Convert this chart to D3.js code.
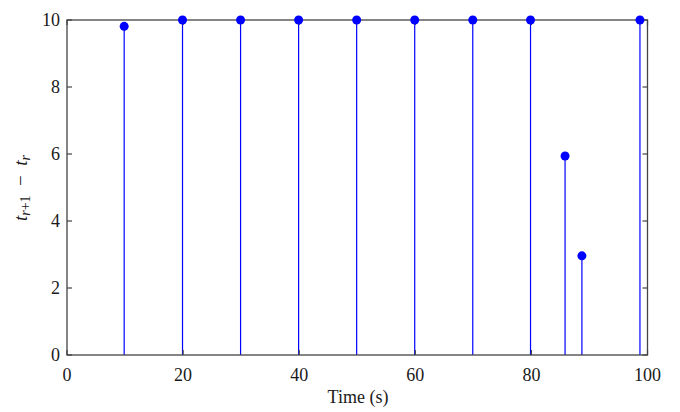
<!DOCTYPE html>
<html><head><meta charset="utf-8">
<script src="https://cdn.jsdelivr.net/npm/d3@7"></script>
<style>body{margin:0;background:#fff}svg{display:block}</style>
</head><body><svg id="c" width="680" height="412"></svg>
<script>
const times = [9.85, 19.9, 29.9, 39.9, 49.9, 59.9, 69.9, 79.85, 85.8, 88.7, 98.7];
const gaps  = [9.81, 10, 10, 10, 10, 10, 10, 10, 5.94, 2.96, 10];
const xTicks = [0, 20, 40, 60, 80, 100];
const yTicks = [0, 2, 4, 6, 8, 10];

const svg = d3.select("#c");
const L = 67, R = 647.5, T = 20, B = 355;
const x = d3.scaleLinear().domain([0, 100]).range([L, R]);
const y = d3.scaleLinear().domain([0, 10]).range([B, T]);
const font = "Liberation Serif, serif";
const axisCol = "#444";
const txtCol = "#1a1a1a";

// stems
const pts = times.map((t, i) => ({t, g: gaps[i]}));
svg.append("g").selectAll("line").data(pts).join("line")
  .attr("x1", d => x(d.t)).attr("x2", d => x(d.t))
  .attr("y1", y(0)).attr("y2", d => y(d.g))
  .attr("stroke", "#0000ff").attr("stroke-width", 1.2);

// box
svg.append("rect").attr("x", L).attr("y", T).attr("width", R - L).attr("height", B - T)
  .attr("fill", "none").attr("stroke", axisCol).attr("stroke-width", 1.3);

// ticks inward
const tl = 5;
const tg = svg.append("g").attr("stroke", axisCol).attr("stroke-width", 1.2);
xTicks.forEach(v => {
  tg.append("line").attr("x1", x(v)).attr("x2", x(v)).attr("y1", B).attr("y2", B - tl);
  tg.append("line").attr("x1", x(v)).attr("x2", x(v)).attr("y1", T).attr("y2", T + tl);
});
yTicks.forEach(v => {
  tg.append("line").attr("x1", L).attr("x2", L + tl).attr("y1", y(v)).attr("y2", y(v));
  tg.append("line").attr("x1", R).attr("x2", R - tl).attr("y1", y(v)).attr("y2", y(v));
});

// markers
svg.append("g").selectAll("circle").data(pts).join("circle")
  .attr("cx", d => x(d.t)).attr("cy", d => y(d.g)).attr("r", 4.5)
  .attr("fill", "#0000ff");

// tick labels
svg.append("g").selectAll("text").data(xTicks).join("text")
  .attr("x", d => x(d)).attr("y", 381).attr("text-anchor", "middle")
  .attr("font-family", font).attr("font-size", 18).attr("fill", txtCol).text(d => d);
svg.append("g").selectAll("text").data(yTicks).join("text")
  .attr("x", 60).attr("y", d => y(d) + 6).attr("text-anchor", "end")
  .attr("font-family", font).attr("font-size", 18).attr("fill", txtCol).text(d => d);

// axis titles
svg.append("text").attr("x", 358).attr("y", 403).attr("text-anchor", "middle")
  .attr("font-family", font).attr("font-size", 18).attr("fill", txtCol).text("Time (s)");

const yl = svg.append("text").attr("transform", "translate(27,188) rotate(-90)")
  .attr("text-anchor", "middle").attr("font-family", font).attr("font-size", 19).attr("fill", txtCol);
yl.append("tspan").attr("font-style", "oblique").text("t");
yl.append("tspan").attr("font-style", "oblique").attr("font-size", 14).attr("dy", 3).text("r");
yl.append("tspan").attr("font-size", 14).text("+1");
yl.append("tspan").attr("dy", -3).text("\u2002−\u2002");
yl.append("tspan").attr("font-style", "oblique").text("t");
yl.append("tspan").attr("font-style", "oblique").attr("font-size", 14).attr("dy", 3).text("r");
</script></body></html>
